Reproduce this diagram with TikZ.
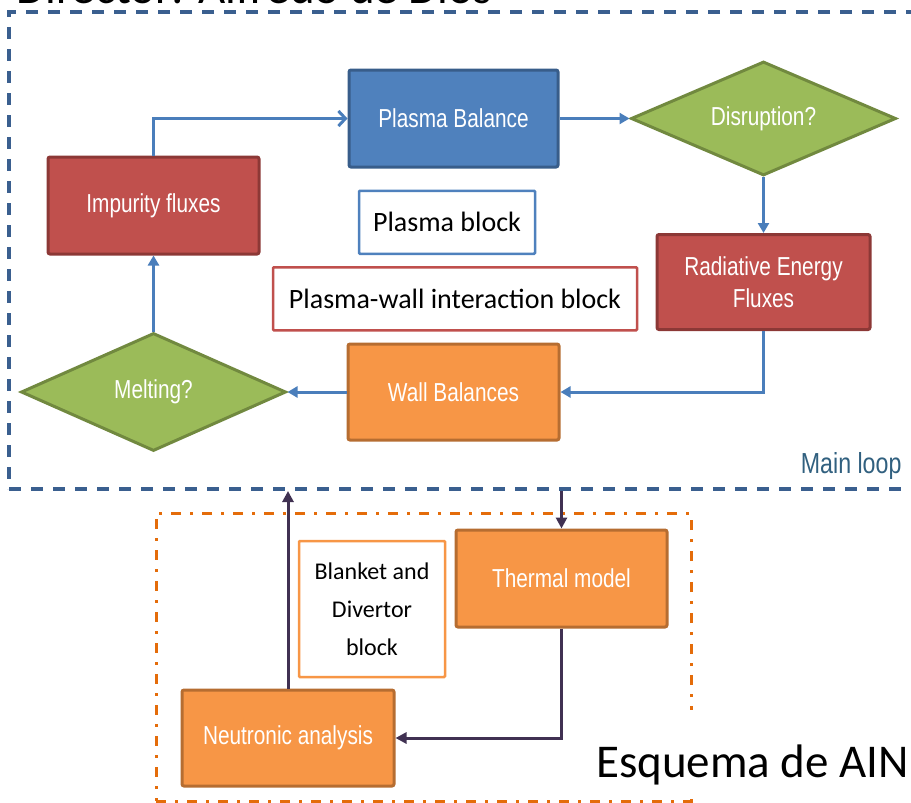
\documentclass[tikz,border=0pt]{standalone}
\usepackage{fontspec}
\setmainfont{Carlito}
\newfontfamily\boxfont[FakeStretch=0.8]{Liberation Sans}
\usetikzlibrary{positioning,shapes.geometric,arrows.meta}

\begin{document}
\begin{tikzpicture}[x=1pt, y=-1pt]

      \definecolor{blue}{HTML}{4F81BD}
      \definecolor{darkblue}{HTML}{385D8A}
      \definecolor{red}{HTML}{C0504D}
      \definecolor{darkred}{HTML}{8C3836}
      \definecolor{green}{HTML}{9BBB59}
      \definecolor{darkgreen}{HTML}{71893F}
      \definecolor{orange}{HTML}{F79646}
      \definecolor{darkorange}{HTML}{B66D31}
      \definecolor{linkblue}{HTML}{4A7EBB}
      \definecolor{linkpurple}{HTML}{403152}
      \definecolor{loopblue}{HTML}{3A5F8F}
      \definecolor{looporange}{HTML}{E46C0A}
      \definecolor{looptext}{HTML}{31607F}

      \tikzstyle{block}     = [rectangle, rounded corners=2pt, minimum width=211pt, minimum height=97pt, line width=3pt, text=white, align=center, font=\boxfont\fontsize{26}{32}\selectfont]
      \tikzstyle{decision}  = [diamond, aspect=2.3, minimum width=265pt, minimum height=116pt, inner sep=0pt, line width=3pt, text=white, font=\boxfont\fontsize{26}{32}\selectfont]
      \tikzstyle{legend}    = [rectangle, rounded corners=1pt, fill=white, minimum height=63pt, line width=2.5pt, text=black, align=center, font=\fontsize{28}{34}\selectfont]
      \tikzstyle{loopbox}   = [rectangle, inner sep=0pt, line width=4pt, draw=loopblue, dash pattern=on 12pt off 10pt]
      \tikzstyle{innerloop} = [rectangle, inner sep=0pt, line width=3pt, draw=looporange, dash pattern=on 10pt off 9pt on 3pt off 9pt]

      \tikzstyle{connector} = [line width=3pt, draw=linkblue, -{Triangle[length=10pt, width=11pt]}]
      \tikzstyle{feedback}  = [line width=3pt, draw=linkpurple, -{Triangle[length=11pt, width=11pt]}]

      \useasboundingbox (0,0) rectangle (911,803);

      \node [anchor=base west, font=\fontsize{47}{56}\selectfont] (director) at (13,3) {Director: Alfredo de Dios};

      \node [loopbox,   minimum width=909pt, minimum height=477pt] (mainloop)    at (463.5,250.5) {};
      \node [innerloop, minimum width=535pt, minimum height=288pt] (blanketloop) at (423.5,657)   {};

      \node [block,    draw = darkblue,   fill = blue,   minimum width=209pt]                     (pbalance)   at (453.5,118.5) {Plasma Balance};
      \node [decision, draw = darkgreen,  fill = green,  minimum height=114pt, right = 70pt of pbalance] (disruption) {Disruption?};
      \node [block,    draw = darkred,    fill = red,    minimum width=213pt, minimum height=95pt, below = 56pt of disruption] (radiative) {Radiative Energy\\Fluxes};
      \node [block,    draw = darkorange, fill = orange, minimum height=96pt, below = 174pt of pbalance] (wall)       {Wall Balances};
      \node [decision, draw = darkgreen,  fill = green,  minimum height=118pt, left = 59pt of wall]      (melting)    {Melting?};
      \node [block,    draw = darkred,    fill = red,    above = 76pt of melting]                  (impurity)   {Impurity fluxes};

      \node [legend, draw = blue, minimum width=176pt, below = 21pt of pbalance, xshift=-6.5pt]  (plasmablock) {Plasma block};
      \node [legend, draw = red,  minimum width=364pt, below = 11pt of plasmablock, xshift=8pt] (pwiblock)    {Plasma-wall interaction block};

      \node [anchor=base east, text=looptext, font=\boxfont\fontsize{29}{34}\selectfont] (looplabel) at (905,473) {Main loop};

      \node [block,  draw = darkorange, fill = orange] (thermal)   at (561.5,578.5) {Thermal model};
      \node [block,  draw = darkorange, fill = orange, minimum width=212pt, minimum height=96pt] (neutronic) at (288,738) {Neutronic analysis};
      \node [legend, draw = orange, minimum width=146pt, minimum height=136pt, font=\fontsize{24}{38}\selectfont] (blanketblock) at (372,609) {Blanket and\\Divertor\\block};

      \draw [connector, -{Straight Barb[length=7pt, width=15pt]}] (impurity.north) |- (pbalance.west);
      \draw [connector] (pbalance)        -- (disruption);
      \draw [connector] (disruption)      -- (radiative);
      \draw [connector] (radiative.south) |- (wall.east);
      \draw [connector] (wall)            -- (melting);
      \draw [connector] (melting)         -- (impurity);

      \draw [feedback] (mainloop.south -| thermal.north) -- (thermal.north);
      \draw [feedback] (thermal.south)   |- (neutronic.east);
      \draw [feedback] (neutronic.north) -- (neutronic.north |- mainloop.south);

      \node [anchor=base west, fill=white, inner sep=2pt, text height=65pt, text depth=16pt, font=\fontsize{47}{56}\selectfont] (esquema) at (594,777) {Esquema de AIN};

    \end{tikzpicture}
\end{document}
